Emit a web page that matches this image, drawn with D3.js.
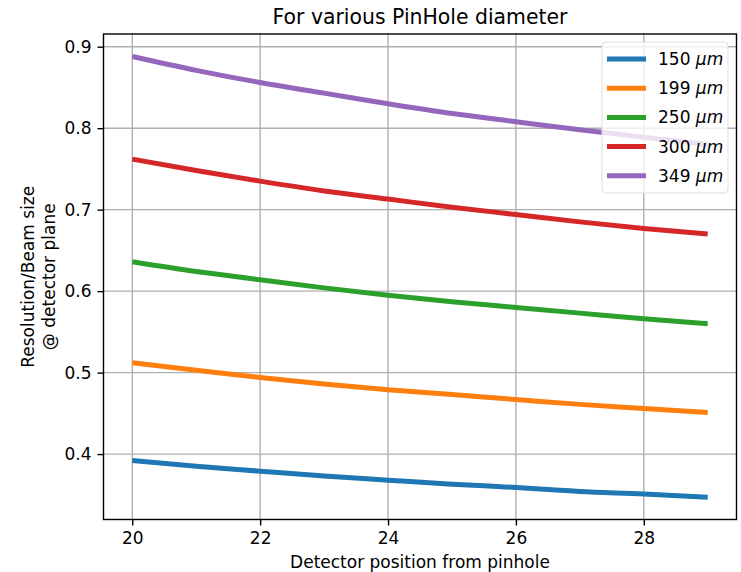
<!DOCTYPE html>
<html>
<head>
<meta charset="utf-8">
<script src="https://d3js.org/d3.v7.min.js"></script>
<style>
  body { margin: 0; background: #fff; }
  text { font-family: "DejaVu Sans", sans-serif; fill: #000; }
</style>
</head>
<body>
<svg id="chart" width="741" height="572"></svg>
<script>
// detector position (x) and resolution / beam size for each pinhole diameter
const positions = [20, 21, 22, 23, 24, 25, 26, 27, 28, 29];
const diameters = ["150", "199", "250", "300", "349"];
const res150 = [0.392, 0.385, 0.379, 0.373, 0.368, 0.363, 0.359, 0.354, 0.351, 0.347];
const res199 = [0.512, 0.503, 0.494, 0.486, 0.479, 0.473, 0.467, 0.461, 0.456, 0.451];
const res250 = [0.636, 0.624, 0.614, 0.604, 0.595, 0.587, 0.580, 0.573, 0.566, 0.560];
const res300 = [0.762, 0.748, 0.735, 0.723, 0.713, 0.703, 0.694, 0.685, 0.677, 0.670];
const res349 = [0.888, 0.871, 0.856, 0.843, 0.830, 0.818, 0.808, 0.798, 0.789, 0.780];
const xTicks = [20, 22, 24, 26, 28];
const yTicks = [0.4, 0.5, 0.6, 0.7, 0.8, 0.9];
const colors = ["#1f77b4", "#ff7f0e", "#2ca02c", "#d62728", "#9467bd"];

const seriesList = [res150, res199, res250, res300, res349];

const svg = d3.select("#chart");
const plotL = 103.5, plotR = 736.5, plotT = 34, plotB = 519.5;

const x = d3.scaleLinear().domain([19.55, 29.45]).range([plotL, plotR]);
const y = d3.scaleLinear().domain([0.3197, 0.9156]).range([plotB, plotT]);

// grid
const grid = svg.append("g");
xTicks.forEach(t => {
  grid.append("line")
    .attr("x1", x(t)).attr("x2", x(t))
    .attr("y1", plotT).attr("y2", plotB)
    .attr("stroke", "#b0b0b0").attr("stroke-width", 1.4);
});
yTicks.forEach(t => {
  grid.append("line")
    .attr("x1", plotL).attr("x2", plotR)
    .attr("y1", y(t)).attr("y2", y(t))
    .attr("stroke", "#b0b0b0").attr("stroke-width", 1.4);
});

// lines
const line = d3.line()
  .x((d, i) => x(positions[i]))
  .y(d => y(d))
  .curve(d3.curveMonotoneX);

seriesList.forEach((s, k) => {
  svg.append("path")
    .datum(s)
    .attr("d", line)
    .attr("fill", "none")
    .attr("stroke", colors[k])
    .attr("stroke-width", 5);
});

// axes
const xAxis = d3.axisBottom(x).tickValues(xTicks).tickSize(6).tickPadding(6).tickFormat(d3.format("d"));
const yAxis = d3.axisLeft(y).tickValues(yTicks).tickSize(6).tickPadding(6).tickFormat(d3.format(".1f"));

const gx = svg.append("g").attr("transform", `translate(0,${plotB})`).call(xAxis);
const gy = svg.append("g").attr("transform", `translate(${plotL},0)`).call(yAxis);
[gx, gy].forEach(g => {
  g.select(".domain").remove();
  g.selectAll(".tick line").attr("stroke", "#000").attr("stroke-width", 1.4);
  g.selectAll(".tick text").attr("font-size", 17).attr("font-family", "DejaVu Sans");
});

// spines
svg.append("rect")
  .attr("x", plotL).attr("y", plotT)
  .attr("width", plotR - plotL).attr("height", plotB - plotT)
  .attr("fill", "none").attr("stroke", "#000").attr("stroke-width", 1.4);

// title and labels
svg.append("text")
  .attr("x", (plotL + plotR) / 2).attr("y", 24)
  .attr("text-anchor", "middle").attr("font-size", 20.4)
  .text("For various PinHole diameter");

svg.append("text")
  .attr("x", (plotL + plotR) / 2).attr("y", 568)
  .attr("text-anchor", "middle").attr("font-size", 17)
  .text("Detector position from pinhole");

const yl = svg.append("text")
  .attr("transform", `translate(34,${(plotT + plotB) / 2}) rotate(-90)`)
  .attr("text-anchor", "middle").attr("font-size", 17);
yl.append("tspan").attr("x", 0).attr("dy", 0).text("Resolution/Beam size");
yl.append("tspan").attr("x", 0).attr("dy", 21).text("@ detector plane");

// legend
const lg = svg.append("g");
lg.append("rect")
  .attr("x", 602).attr("y", 42).attr("width", 126).attr("height", 151)
  .attr("rx", 4).attr("fill", "#fff").attr("fill-opacity", 0.8)
  .attr("stroke", "#d9d9d9").attr("stroke-opacity", 0.9);

diameters.forEach((d, k) => {
  const ly = 59 + k * 29.2;
  lg.append("line")
    .attr("x1", 607).attr("x2", 646)
    .attr("y1", ly).attr("y2", ly)
    .attr("stroke", colors[k]).attr("stroke-width", 5);
  const t = lg.append("text")
    .attr("x", 658).attr("y", ly + 6)
    .attr("font-size", 17);
  t.append("tspan").text(d + " ");
  t.append("tspan").attr("font-style", "italic").text("μm");
});
</script>
</body>
</html>
